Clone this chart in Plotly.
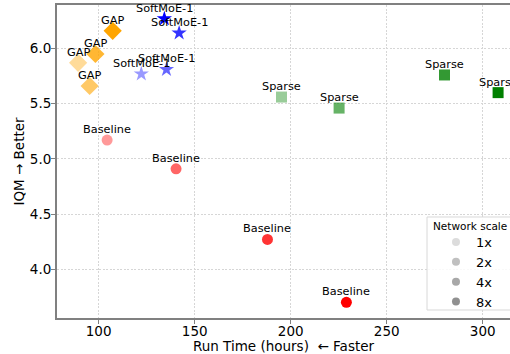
import plotly.graph_objects as go

scales = ["1x", "2x", "4x", "8x"]
alphas = [0.4, 0.6, 0.8, 1.0]
legend_greys = ["#dcdcdc", "#c0c0c0", "#a8a8a8", "#909090"]

baseline_time = [104.4, 140.3, 187.9, 229.0]
baseline_iqm = [5.17, 4.91, 4.27, 3.70]
gap_time = [89.3, 95.3, 98.3, 107.3]
gap_iqm = [5.87, 5.66, 5.95, 6.16]
softmoe_time = [122.2, 135.3, 141.9, 134.2]
softmoe_iqm = [5.77, 5.81, 6.14, 6.27]
sparse_time = [195.2, 225.2, 280.1, 308.0]
sparse_iqm = [5.56, 5.46, 5.76, 5.60]

x_ticks = [100, 150, 200, 250, 300]
y_ticks = [4.0, 4.5, 5.0, 5.5, 6.0]

methods = [
    ("Baseline", baseline_time, baseline_iqm, (255, 0, 0), "circle", 11),
    ("GAP", gap_time, gap_iqm, (255, 165, 0), "diamond", 14),
    ("SoftMoE-1", softmoe_time, softmoe_iqm, (0, 0, 255), "star", 11.5),
    ("Sparse", sparse_time, sparse_iqm, (0, 128, 0), "square", 11),
]

FONT = "DejaVu Sans"
fig = go.Figure()

annotations = []
for name, xs, ys, rgb, sym, size in methods:
    for i in range(len(xs)):
        c = "rgba(%d,%d,%d,%.2f)" % (rgb + (alphas[i],))
        fig.add_trace(go.Scatter(
            x=[xs[i]], y=[ys[i]], mode="markers",
            marker=dict(symbol=sym, size=size, color=c, line=dict(width=0)),
            showlegend=False, hoverinfo="skip", cliponaxis=False,
        ))
        annotations.append(dict(
            x=xs[i], y=ys[i], xref="x", yref="y", text=name, showarrow=False,
            xanchor="center", yanchor="bottom", yshift=2,
            font=dict(family=FONT, size=11.3, color="black"),
        ))

for i, s in enumerate(scales):
    fig.add_trace(go.Scatter(
        x=[None], y=[None], mode="markers", name=s,
        marker=dict(symbol="circle", size=8, color=legend_greys[i]),
        showlegend=True,
    ))

# legend title drawn as text so it stays centred in the clipped box
annotations.append(dict(
    x=0.9128, y=0.294, xref="paper", yref="paper", text="Network scale",
    showarrow=False, xanchor="center", yanchor="middle",
    font=dict(family=FONT, size=10.5, color="black"),
))

axis_common = dict(
    showline=True, linecolor="#808080", linewidth=2,
    ticks="outside", ticklen=4, tickcolor="#808080", tickwidth=1,
    showgrid=True, gridcolor="#d6d6d6", griddash="2px,1.5px", gridwidth=1,
    zeroline=False,
    tickfont=dict(family=FONT, size=13.5, color="black"),
)

fig.update_layout(
    width=510, height=354,
    margin=dict(l=57, r=0, t=5, b=36, autoexpand=False),
    paper_bgcolor="white", plot_bgcolor="white",
    font=dict(family=FONT, color="black"),
    annotations=annotations,
    shapes=[dict(
        type="rect", xref="paper", yref="paper",
        x0=0.8168, x1=1.03, y0=0.0256, y1=0.3227,
        line=dict(color="#d8d8d8", width=1),
        fillcolor="rgba(255,255,255,0.85)", layer="above",
    )],
    xaxis=dict(
        range=[78.3, 314.2], tickvals=x_ticks, mirror=True, automargin=False,
        ticklabelstandoff=-4,
        title=dict(text="Run Time (hours)  ← Faster",
                   font=dict(family=FONT, size=13.5), standoff=5),
        **axis_common,
    ),
    yaxis=dict(
        range=[3.558, 6.394], tickvals=y_ticks, tickformat=".1f", mirror=False,
        automargin=False, ticklabelstandoff=-3,
        title=dict(text="IQM → Better", font=dict(family=FONT, size=13.5), standoff=2),
        **axis_common,
    ),
    legend=dict(
        font=dict(family=FONT, size=13),
        x=0.8366, xanchor="left", y=0.0034, yanchor="bottom",
        bgcolor="rgba(0,0,0,0)", borderwidth=0,
        itemwidth=30, tracegroupgap=0,
    ),
)

fig.write_html("out.html")
